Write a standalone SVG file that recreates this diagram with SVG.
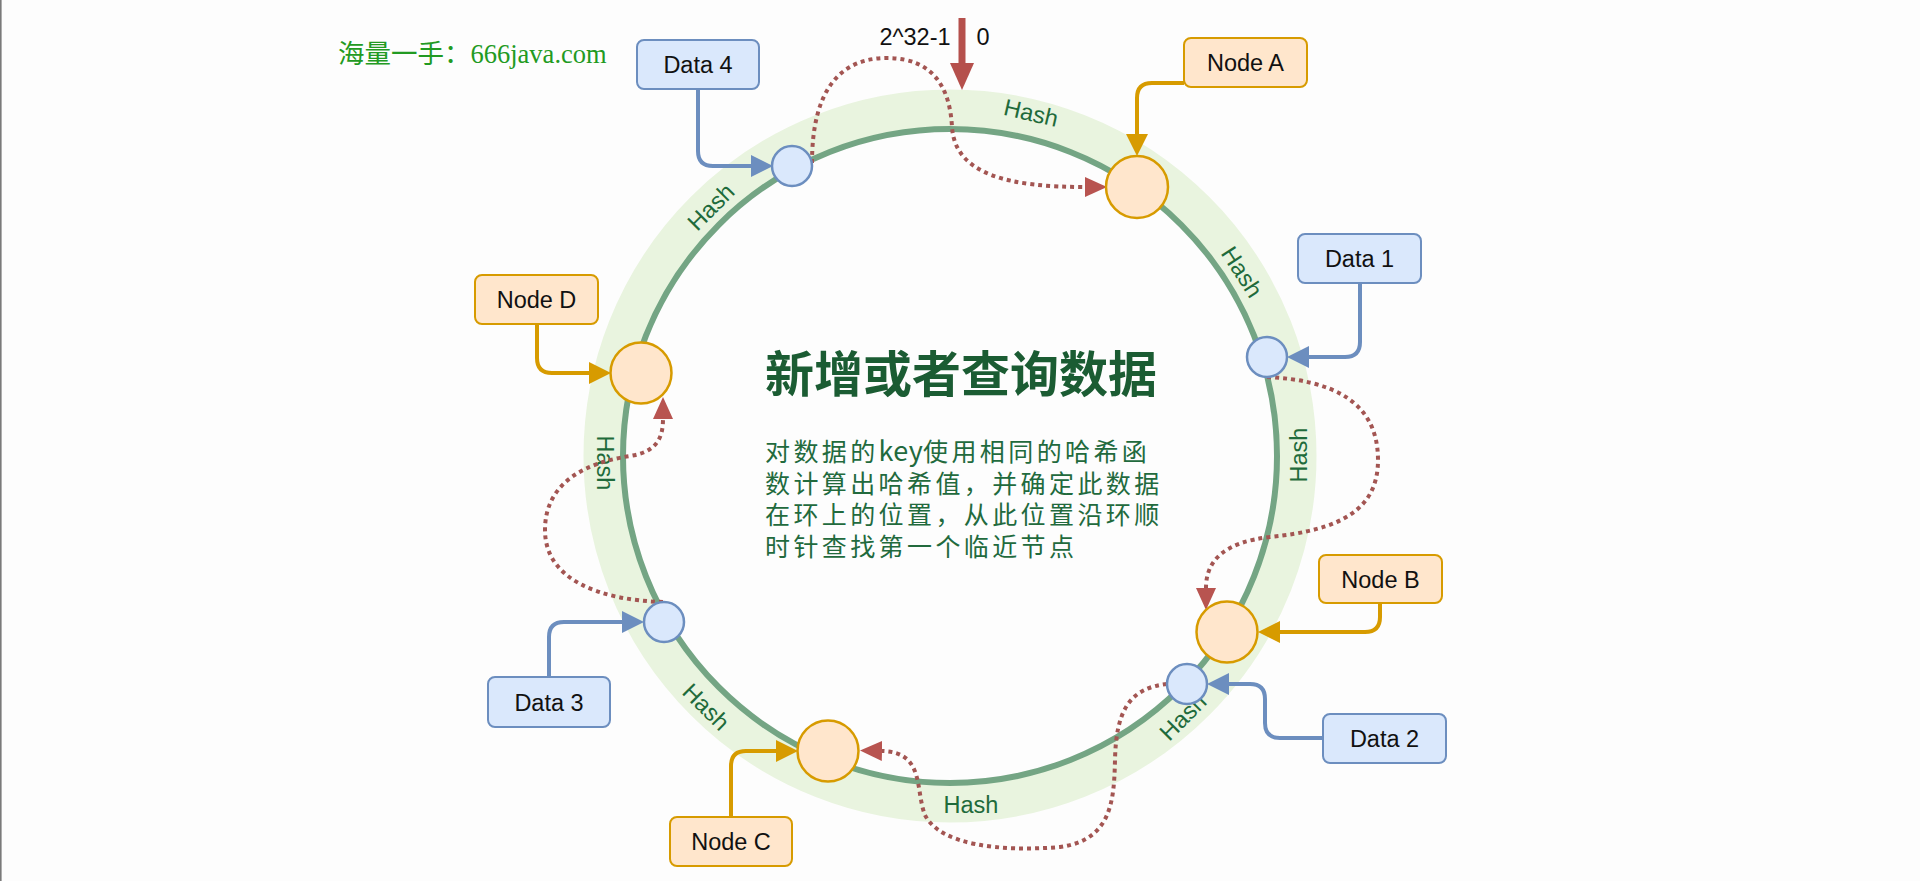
<svg xmlns="http://www.w3.org/2000/svg" width="1920" height="881" viewBox="0 0 1920 881">
<defs>
<style>
.box-node{fill:#ffe6cc;stroke:#d79b00;stroke-width:2}
.box-data{fill:#dae8fc;stroke:#6c8ebf;stroke-width:2}
.c-node{fill:#ffe6cc;stroke:#d79b00;stroke-width:2.5}
.c-data{fill:#dae8fc;stroke:#6c8ebf;stroke-width:2.5}
.lbl{font-family:"Liberation Sans",Arial,sans-serif;font-size:23.5px;fill:#111;text-anchor:middle}
.hash{font-family:"Liberation Sans",Arial,sans-serif;font-size:23.5px;fill:#1f6b3b;text-anchor:middle;dominant-baseline:central}
.e-node{fill:none;stroke:#d79b00;stroke-width:4}
.e-data{fill:none;stroke:#6c8ebf;stroke-width:4}
.e-dot{fill:none;stroke:#a35552;stroke-width:4;stroke-dasharray:4 4}
</style>
<marker id="ahNode" markerUnits="userSpaceOnUse" markerWidth="22" markerHeight="22" refX="0" refY="11" orient="auto"><path d="M0,0 L22,11 L0,22 z" fill="#d79b00"/></marker>
<marker id="ahData" markerUnits="userSpaceOnUse" markerWidth="22" markerHeight="22" refX="0" refY="11" orient="auto"><path d="M0,0 L22,11 L0,22 z" fill="#6c8ebf"/></marker>
<marker id="ahRed" markerUnits="userSpaceOnUse" markerWidth="22" markerHeight="22" refX="0" refY="11" orient="auto"><path d="M0,1 L22,11 L0,21 z" fill="#b85450"/></marker>
</defs>
<rect x="0" y="0" width="1920" height="881" fill="#fdfdfd"/>
<rect x="0" y="0" width="1.6" height="881" fill="#7a7a7a"/>

<text x="338" y="63" font-family="'Liberation Serif','Noto Sans CJK SC',serif" font-size="26.5" fill="#229a22">海量一手：666java.com</text>

<g id="ring">
<circle cx="950" cy="456" r="346.5" fill="none" stroke="#e9f4df" stroke-width="40"/>
<circle cx="950" cy="456" r="327" fill="none" stroke="#74a584" stroke-width="6"/>
</g>

<g id="hash-labels">
<text class="hash" transform="translate(1031,113) rotate(13)">Hash</text>
<text class="hash" transform="translate(1242,272) rotate(57)">Hash</text>
<text class="hash" transform="translate(1299,455) rotate(-90)">Hash</text>
<text class="hash" transform="translate(1183,717) rotate(-45)">Hash</text>
<text class="hash" transform="translate(971,805)">Hash</text>
<text class="hash" transform="translate(706,707) rotate(45)">Hash</text>
<text class="hash" transform="translate(605,463) rotate(90)">Hash</text>
<text class="hash" transform="translate(711,207) rotate(-45)">Hash</text>
</g>

<g id="zero-marker">
<text x="915" y="45" font-family="'Liberation Sans',Arial,sans-serif" font-size="23.5" fill="#111" text-anchor="middle">2^32-1</text>
<text x="983" y="45" font-family="'Liberation Sans',Arial,sans-serif" font-size="23.5" fill="#111" text-anchor="middle">0</text>
<line x1="962" y1="18" x2="962" y2="64" stroke="#b5504c" stroke-width="7"/>
<path d="M950,63 L974,63 L962,90 z" fill="#b5504c"/>
</g>

<g id="connectors">
<path class="e-data" d="M698,89 V151 Q698,166 713,166 H751" marker-end="url(#ahData)"/>
<path class="e-node" d="M1184,83 H1152 Q1137,83 1137,98 V134" marker-end="url(#ahNode)"/>
<path class="e-data" d="M1360,283 V342 Q1360,357 1345,357 H1309" marker-end="url(#ahData)"/>
<path class="e-node" d="M537,324 V358 Q537,373 552,373 H589" marker-end="url(#ahNode)"/>
<path class="e-node" d="M1380,603 V617 Q1380,632 1365,632 H1280" marker-end="url(#ahNode)"/>
<path class="e-data" d="M1323,738 H1280 Q1265,738 1265,723 V699 Q1265,684 1250,684 H1229" marker-end="url(#ahData)"/>
<path class="e-data" d="M549,677 V637 Q549,622 564,622 H622" marker-end="url(#ahData)"/>
<path class="e-node" d="M731,817 V766 Q731,751 746,751 H776" marker-end="url(#ahNode)"/>
<path class="e-dot" d="M812,163 C812,90 840,58 887,58 C935,58 950,90 952,127 C955,175 1010,187 1085,187" marker-end="url(#ahRed)"/>
<path class="e-dot" d="M1267,377 C1330,380 1378,400 1378,460 C1378,510 1340,530 1270,537 C1225,542 1206,560 1206,588" marker-end="url(#ahRed)"/>
<path class="e-dot" d="M1167,684 C1130,688 1116,710 1115,760 C1114,800 1112,840 1060,847 C1000,852 940,845 925,815 C915,790 925,752 882,751" marker-end="url(#ahRed)"/>
<path class="e-dot" d="M663,602 C600,600 545,580 545,530 C545,480 590,462 630,456 C655,452 663,440 663,419" marker-end="url(#ahRed)"/>
</g>

<g id="node-a-point"><circle class="c-node" cx="1137" cy="187" r="31"/></g>
<g id="node-b-point"><circle class="c-node" cx="1227" cy="632" r="30.5"/></g>
<g id="node-c-point"><circle class="c-node" cx="828" cy="751" r="30.5"/></g>
<g id="node-d-point"><circle class="c-node" cx="641" cy="373" r="30.5"/></g>
<g id="data-1-point"><circle class="c-data" cx="1267" cy="357" r="20"/></g>
<g id="data-2-point"><circle class="c-data" cx="1187" cy="684" r="20"/></g>
<g id="data-3-point"><circle class="c-data" cx="664" cy="622" r="20"/></g>
<g id="data-4-point"><circle class="c-data" cx="792" cy="166" r="20"/></g>

<g id="node-a"><rect class="box-node" x="1184" y="38" width="123" height="49" rx="7"/><text class="lbl" x="1245.5" y="71">Node A</text></g>
<g id="node-b"><rect class="box-node" x="1319" y="555" width="123" height="48" rx="7"/><text class="lbl" x="1380.5" y="587.5">Node B</text></g>
<g id="node-c"><rect class="box-node" x="670" y="817" width="122" height="49" rx="7"/><text class="lbl" x="731" y="850">Node C</text></g>
<g id="node-d"><rect class="box-node" x="475" y="275" width="123" height="49" rx="7"/><text class="lbl" x="536.5" y="308">Node D</text></g>
<g id="data-1"><rect class="box-data" x="1298" y="234" width="123" height="49" rx="7"/><text class="lbl" x="1359.5" y="267">Data 1</text></g>
<g id="data-2"><rect class="box-data" x="1323" y="714" width="123" height="49" rx="7"/><text class="lbl" x="1384.5" y="747">Data 2</text></g>
<g id="data-3"><rect class="box-data" x="488" y="677" width="122" height="50" rx="7"/><text class="lbl" x="549" y="710.5">Data 3</text></g>
<g id="data-4"><rect class="box-data" x="637" y="40" width="122" height="49" rx="7"/><text class="lbl" x="698" y="73">Data 4</text></g>

<g id="description" font-family="'Noto Sans CJK SC',sans-serif">
<text x="765" y="392" font-size="49" font-weight="700" fill="#1b5c33">新增或者查询数据</text>
<g font-size="25" letter-spacing="3.4" fill="#226a3d">
<text x="765" y="461">对数据的<tspan letter-spacing="0.3" font-size="27">key</tspan>使用相同的哈希函</text>
<text x="765" y="493">数计算出哈希值，并确定此数据</text>
<text x="765" y="524">在环上的位置，从此位置沿环顺</text>
<text x="765" y="556">时针查找第一个临近节点</text>
</g>
</g>
</svg>
